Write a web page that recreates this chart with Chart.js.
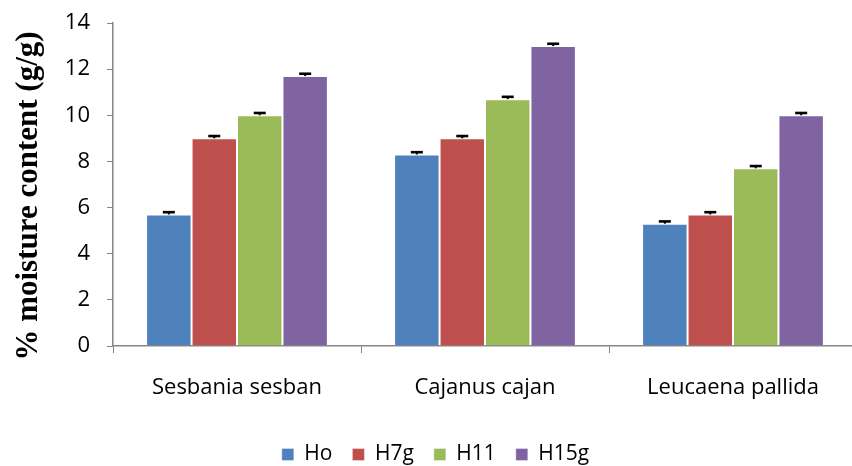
<!DOCTYPE html>
<html>
<head>
<meta charset="utf-8">
<script src="https://cdn.jsdelivr.net/npm/chart.js@4/dist/chart.umd.min.js"></script>
<style>
  html, body { margin: 0; padding: 0; background: #fff; overflow: hidden; }
  #wrap { width: 852px; height: 466px; overflow: hidden; position: relative; }
  #box { width: 880px; height: 475px; position: absolute; left: 0; top: 0; }
</style>
</head>
<body>
<div id="wrap"><div id="box"><canvas id="c" width="880" height="475"></canvas></div></div>
<script>
// Moisture content per species and treatment
const categories = ['Sesbania sesban', 'Cajanus cajan', 'Leucaena pallida'];
const seriesNames = ['Ho', 'H7g', 'H11', 'H15g'];
const hoValues   = [5.7, 8.3, 5.3];
const h7gValues  = [9.0, 9.0, 5.7];
const h11Values  = [10.0, 10.7, 7.7];
const h15gValues = [11.7, 13.0, 10.0];
// standard errors (upper bars only)
const hoErr   = [0.1, 0.1, 0.1];
const h7gErr  = [0.1, 0.1, 0.1];
const h11Err  = [0.1, 0.1, 0.1];
const h15gErr = [0.1, 0.1, 0.1];
const yTicks = [0, 2, 4, 6, 8, 10, 12, 14];
const yTitle = '% moisture content (g/g)';

const colors = ['#4F81BD', '#C0504D', '#9BBB59', '#8064A2'];
const values = [hoValues, h7gValues, h11Values, h15gValues];
const errors = [hoErr, h7gErr, h11Err, h15gErr];

const PLOT_BOTTOM = 346;

// upper error bars with a short cap
const errorBars = {
  id: 'errorBars',
  afterDatasetsDraw(chart) {
    const ctx = chart.ctx;
    const y = chart.scales.y;
    ctx.save();
    ctx.strokeStyle = '#000';
    chart.data.datasets.forEach((ds, i) => {
      const meta = chart.getDatasetMeta(i);
      meta.data.forEach((bar, j) => {
        const top = y.getPixelForValue(ds.data[j] + ds.errors[j]);
        const base = y.getPixelForValue(ds.data[j]);
        ctx.lineWidth = 2;
        ctx.beginPath();
        ctx.moveTo(bar.x, base);
        ctx.lineTo(bar.x, top);
        ctx.stroke();
        ctx.lineWidth = 2.6;
        ctx.beginPath();
        ctx.moveTo(bar.x - 6, top);
        ctx.lineTo(bar.x + 6, top);
        ctx.stroke();
      });
    });
    ctx.restore();
  }
};

// rotated y-axis title, placed a little below the axis middle
const yAxisTitle = {
  id: 'yAxisTitle',
  afterDraw(chart) {
    const ctx = chart.ctx;
    ctx.save();
    ctx.translate(37, 196);
    ctx.rotate(-Math.PI / 2);
    ctx.font = 'bold 31px "Liberation Serif", "Times New Roman", serif';
    ctx.fillStyle = '#000';
    ctx.textAlign = 'center';
    ctx.textBaseline = 'alphabetic';
    ctx.fillText(yTitle, 0, 0);
    ctx.restore();
  }
};

// nudge the legend so it sits under the middle of the figure
const legendShift = {
  id: 'legendShift',
  afterLayout(chart) {
    chart.legend.left += 7;
    chart.legend.right += 7;
  }
};

const axisColor = '#868686';
const labelFont = { family: '"Open Sans", Lato, sans-serif', size: 22 };
const legendFont = { family: '"Open Sans", Lato, sans-serif', size: 21 };

new Chart(document.getElementById('c'), {
  type: 'bar',
  data: {
    labels: categories,
    datasets: seriesNames.map((name, i) => ({
      label: name,
      data: values[i],
      errors: errors[i],
      backgroundColor: colors[i],
      borderColor: 'rgba(255,255,255,0.35)',
      borderWidth: 1,
      categoryPercentage: 0.733,
      barPercentage: 1.0
    }))
  },
  options: {
    responsive: false,
    animation: false,
    devicePixelRatio: 1,
    layout: { padding: { top: 23, right: 23, bottom: 0, left: 0 } },
    plugins: {
      tooltip: { enabled: false },
      legend: {
        position: 'bottom',
        labels: {
          font: legendFont,
          color: '#000',
          boxWidth: 12,
          boxHeight: 12,
          padding: 20
        }
      }
    },
    scales: {
      y: {
        min: 0, max: 14,
        afterFit(scale) { scale.width = 113; scale.paddingTop = 0; scale.paddingBottom = 0; },
        afterBuildTicks(scale) { scale.ticks = yTicks.map(v => ({ value: v })); },
        ticks: { font: labelFont, color: '#000', padding: 17 },
        grid: { drawOnChartArea: false, color: axisColor, tickLength: 6, lineWidth: 1 },
        border: { color: axisColor, width: 1.5 }
      },
      x: {
        afterFit(scale) {
          scale.height = scale.chart.height - scale.chart.legend.height - PLOT_BOTTOM;
        },
        ticks: { font: labelFont, color: '#000', padding: 22 },
        grid: { drawOnChartArea: false, color: axisColor, tickLength: 7, offset: true },
        border: { color: axisColor, width: 1.5 }
      }
    }
  },
  plugins: [errorBars, yAxisTitle, legendShift]
});
</script>
</body>
</html>
